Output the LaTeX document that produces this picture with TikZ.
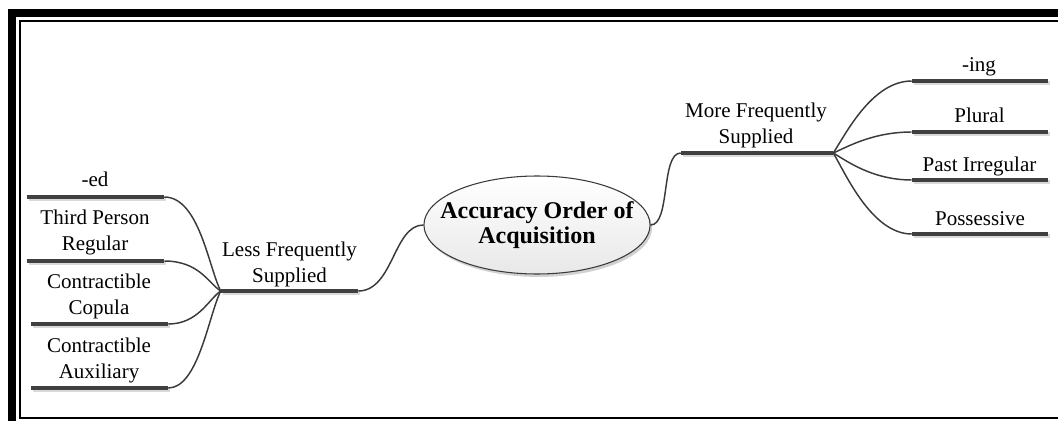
\documentclass[tikz,border=0pt]{standalone}
\usepackage{fontspec}
\setmainfont{Liberation Serif}
\usetikzlibrary{shapes.geometric,shadows}
\newcommand\pxu{0.75pt}
\definecolor{barc}{HTML}{404040}
\definecolor{linec}{HTML}{3A3A3A}
\definecolor{shc}{HTML}{DADADA}
\tikzset{
  topicbar/.style={rectangle, fill=barc, inner sep=0pt, minimum height=4*\pxu,
    general shadow={fill=shc, shadow xshift=1.5pt, shadow yshift=-1.8pt}},
  leafbar/.style={topicbar, minimum width=137*\pxu},
  rightbar/.style={topicbar, minimum width=136*\pxu},
  toptext/.style={font=\fontsize{15.75pt}{19.5pt}\selectfont, align=center,
    inner sep=0pt, anchor=south, text depth=3.4pt},
  link/.style={draw=linec, line width=1.1pt},
  central/.style={ellipse, draw=linec, line width=0.8pt,
    inner xsep=-12.5pt, inner ysep=0pt, minimum height=98*\pxu,
    top color=white, bottom color=black!9,
    drop shadow={shadow xshift=1.5pt, shadow yshift=-2.2pt, fill=black, opacity=0.18},
    font=\fontsize{18pt}{18.75pt}\selectfont\bfseries, align=center}
}
\begin{document}
\begin{tikzpicture}[x=0.75pt, y=-0.75pt]
\useasboundingbox (0,0) rectangle (1058,421);
\clip (0,0) rectangle (1058,421);

% page frame: heavy outer rule and thin inner rule
\fill[black] (8,9) rectangle (1058,17);
\fill[black] (8,9) rectangle (16,421);
\draw[line width=1.5pt] (1062,21) -- (20,21) -- (20,418) -- (1062,418);

% central topic
\node[central] (core) at (537,225) {Accuracy Order of\\Acquisition};

% main branches
\node[topicbar, minimum width=137*\pxu] (less) at (289.5,291) {};
\node[toptext] (lesst) at (289.5,287.5) {Less Frequently\\Supplied};
\node[topicbar, minimum width=152*\pxu] (more) at (757,153) {};
\node[toptext] (moret) at (756,148.5) {More Frequently\\Supplied};

% left leaves
\node[leafbar] (ed) at (95.5,197) {};
\node[toptext] (edt) at (95,191.5) {-ed};
\node[leafbar] (tpr) at (95.5,261) {};
\node[toptext] (tprt) at (95,255.5) {Third Person\\Regular};
\node[leafbar] (cop) at (99.5,324) {};
\node[toptext] (copt) at (99,319.5) {Contractible\\Copula};
\node[leafbar] (aux) at (99.5,388) {};
\node[toptext] (auxt) at (99,383.5) {Contractible\\Auxiliary};

% right leaves
\node[rightbar] (ing) at (980,81) {};
\node[toptext] (ingt) at (979,76.5) {-ing};
\node[rightbar] (plu) at (980,132) {};
\node[toptext] (plut) at (979.5,127.5) {Plural};
\node[rightbar] (pir) at (980,180) {};
\node[toptext] (pirt) at (979.5,176.5) {Past Irregular};
\node[rightbar] (pos) at (980,234) {};
\node[toptext] (post) at (980,230.5) {Possessive};

% connectors
\draw[link] (less.east) .. controls +(35,0) and +(-30,0) .. (core.west);
\draw[link] (core.east) .. controls +(20,0) and +(-20,0) .. (more.west);

\draw[link] (ed.east)  .. controls +(35,0) and +(-12,-23) .. (less.west);
\draw[link] (tpr.east) .. controls +(35,0) and +(-12,-7.5) .. (less.west);
\draw[link] (cop.east) .. controls +(30,0) and +(-12,8) .. (less.west);
\draw[link] (aux.east) .. controls +(30,0) and +(-12,24) .. (less.west);

\draw[link] (more.east) .. controls +(12,-18) and +(-40,0) .. (ing.west);
\draw[link] (more.east) .. controls +(12,-5) and +(-40,0) .. (plu.west);
\draw[link] (more.east) .. controls +(12,7) and +(-40,0) .. (pir.west);
\draw[link] (more.east) .. controls +(12,20) and +(-40,0) .. (pos.west);
\end{tikzpicture}
\end{document}
